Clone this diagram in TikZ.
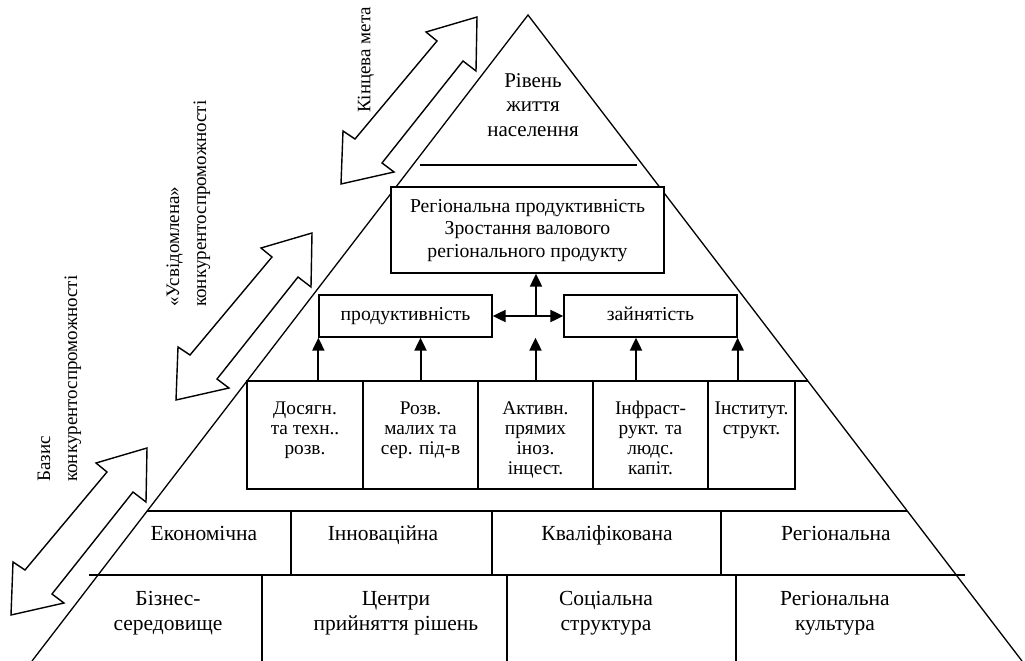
\documentclass[tikz,border=0pt]{standalone}
\usepackage{fontspec}
\setmainfont{Liberation Serif}
\usetikzlibrary{arrows.meta}
\newcommand\sT{\strut}
\begin{document}
\begin{tikzpicture}[x=1pt,y=-1pt,line join=miter,
  box/.style={draw,line width=1.3pt,fill=white,inner sep=0pt},
  lbl/.style={font=\fontsize{19.7}{22.5}\selectfont,align=center,inner sep=0pt},
  row/.style={font=\fontsize{21.5}{25}\selectfont,align=center,inner sep=0pt},
  sml/.style={font=\fontsize{19.3}{20}\selectfont,align=center,inner sep=0pt},
  big/.style={font=\fontsize{21}{24.5}\selectfont,align=center,inner sep=0pt},
  side/.style={font=\fontsize{19}{27}\selectfont,align=left,inner sep=0pt,rotate=90,anchor=west},
  up/.style={line width=2pt,-{Triangle[width=12pt,length=13pt]}},
  dbl/.style={draw,line width=1.4pt,fill=white},
  thin/.style={line width=1.3pt}]
\useasboundingbox (0,0) rectangle (1025,661);
% pyramid
\draw[thin] (32,661) -- (528,15) -- (1022,661);
\draw[thin] (420,165) -- (637,165);
\node[big] (life) at (533,107) {\sT Рівень\\\sT життя\\\sT населення};
% hollow double arrows
\foreach \p in {(477,17),(312,233),(147,448)}{
  \draw[dbl,shift={\p}] (0,0) -- (-1,54) -- (-14,44) -- (-95,146) -- (-83,155)
     -- (-136,167) -- (-134,114) -- (-122,122) -- (-40,24) -- (-51,15) -- cycle;
}
\node[side] (goal) at (366,113) {Кінцева мета};
\node[side] (aware) at (188.5,307) {«Усвідомлена»\\конкурентоспроможності};
\node[side] (basis) at (59.5,482) {Базис\\конкурентоспроможності};
% top box
\node[box,lbl,minimum width=273pt,minimum height=86pt] (top) at (527.5,230)
  {\sT Регіональна продуктивність\\\sT Зростання валового\\\sT регіонального продукту};
\node[box,lbl,minimum width=173pt,minimum height=42pt] (prod) at (405.5,316) {\sT продуктивність};
\node[box,lbl,minimum width=173pt,minimum height=42pt] (empl) at (650.5,316) {\sT зайнятість};
\coordinate (hub) at (536,316);
\draw[up] (hub) -- (top.south -| hub);
\draw[up] (hub) -- (prod.east);
\draw[up] (hub) -- (empl.west);
% five boxes
\draw[thin] (247,381) -- (808,381);
\node[box,minimum width=116pt,minimum height=108pt] (b1) at (305,435) {};
\node[box,minimum width=115pt,minimum height=108pt] (b2) at (420.5,435) {};
\node[box,minimum width=115pt,minimum height=108pt] (b3) at (535.5,435) {};
\node[box,minimum width=115pt,minimum height=108pt] (b4) at (650.5,435) {};
\node[box,minimum width=87pt,minimum height=108pt] (b5) at (751.5,435) {};
\node[sml,anchor=north] (t1) at ([yshift=-20pt]b1.north) {\sT Досягн.\\\sT та техн..\\\sT розв.};
\node[sml,anchor=north] (t2) at ([yshift=-20pt]b2.north) {\sT Розв.\\\sT малих та\\\sT сер. під-в};
\node[sml,anchor=north] (t3) at ([yshift=-20pt]b3.north) {\sT Активн.\\\sT прямих\\\sT іноз.\\\sT інцест.};
\node[sml,anchor=north] (t4) at ([yshift=-20pt]b4.north) {\sT Інфраст-\\\sT рукт. та\\\sT людс.\\\sT капіт.};
\node[sml,anchor=north] (t5) at ([yshift=-20pt]b5.north) {\sT Інститут.\\\sT структ.};
\draw[up] (b1.north -| prod.west) -- (prod.south west);
\draw[up] (b2.north) -- (b2.north |- prod.south);
\draw[up] (b3.north) -- (b3.north |- prod.south);
\draw[up] ([xshift=-14.5pt]b4.north) -- ([xshift=-14.5pt]b4.north |- empl.south);
\draw[up] (b5.north -| empl.east) -- (empl.south east);
% layers
\draw[thin] (147,511) -- (907,511);
\draw[thin] (89,575) -- (965,575);
\draw[thin] (291,511) -- (291,575);
\draw[thin] (492,511) -- (492,575);
\draw[thin] (721,511) -- (721,575);
\draw[thin] (262,575) -- (262,661);
\draw[thin] (507,575) -- (507,661);
\draw[thin] (736,575) -- (736,661);
\node[row] (l1) at (204,535) {\sT Економічна};
\node[row] (l2) at (383,535) {\sT Інноваційна};
\node[row] (l3) at (607,535) {\sT Кваліфікована};
\node[row] (l4) at (836,535) {\sT Регіональна};
\node[row] (m1) at (168,612.5) {\sT Бізнес-\\\sT середовище};
\node[row] (m2) at (396,612.5) {\sT Центри\\\sT прийняття рішень};
\node[row] (m3) at (606,612.5) {\sT Соціальна\\\sT структура};
\node[row] (m4) at (835,612.5) {\sT Регіональна\\\sT культура};
\end{tikzpicture}
\end{document}
